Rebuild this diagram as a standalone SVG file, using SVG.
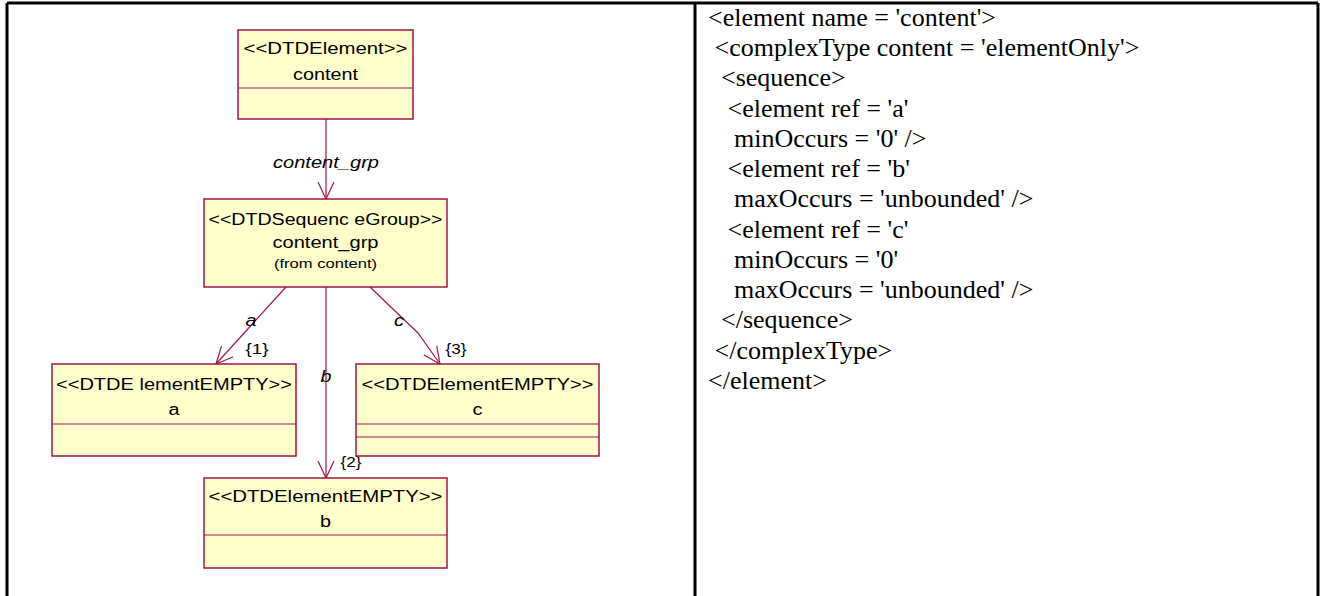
<svg xmlns="http://www.w3.org/2000/svg" width="1321" height="596" viewBox="0 0 1321 596">
  <style>
    .box { fill: #ffffcc; stroke: #a0164a; stroke-width: 1.5; }
    .sep { stroke: #a0164a; stroke-width: 1.2; fill: none; }
    .edge { stroke: #a0164a; stroke-width: 1.2; fill: none; }
    .t { font-family: "Liberation Sans", Arial, sans-serif; font-size: 16px; fill: #000; text-anchor: middle; }
    .small { font-size: 12.5px; }
    .lbl { font-family: "Liberation Sans", Arial, sans-serif; font-size: 16px; font-style: italic; fill: #000; text-anchor: middle; }
    .mult { font-family: "Liberation Sans", Arial, sans-serif; font-size: 15px; fill: #000; text-anchor: middle; }
    .code { font-family: "Liberation Serif", "Times New Roman", serif; font-size: 26px; fill: #000; }
    .frame { stroke: #000; stroke-width: 3; fill: none; }
  </style>
  <defs>
    <marker id="open" viewBox="0 0 18 18" refX="17" refY="9" markerWidth="18" markerHeight="18" markerUnits="userSpaceOnUse" orient="auto">
      <path d="M0,1 L17,9 L0,17" fill="none" stroke="#a0164a" stroke-width="1.2"/>
    </marker>
  </defs>

  <rect width="1321" height="596" fill="#fff"/>

  <!-- table frame -->
  <g id="frame" class="frame">
    <line x1="7" y1="3" x2="1318" y2="3"/>
    <line x1="7" y1="3" x2="7" y2="596"/>
    <line x1="695" y1="3" x2="695" y2="596"/>
    <line x1="1318" y1="3" x2="1318" y2="596"/>
  </g>

  <!-- connectors -->
  <g id="connectors">
    <line class="edge" x1="326" y1="119" x2="326" y2="199" marker-end="url(#open)"/>
    <text class="lbl" x="326" y="168" textLength="106" lengthAdjust="spacingAndGlyphs">content_grp</text>
    <line class="edge" x1="286" y1="287" x2="216" y2="364" marker-end="url(#open)"/>
    <text class="lbl" x="251" y="326" textLength="11" lengthAdjust="spacingAndGlyphs">a</text>
    <text class="mult" x="257" y="354" textLength="23" lengthAdjust="spacingAndGlyphs">{1}</text>
    <line class="edge" x1="326" y1="287" x2="326" y2="478" marker-end="url(#open)"/>
    <text class="lbl" x="326" y="382" textLength="11" lengthAdjust="spacingAndGlyphs">b</text>
    <text class="mult" x="351" y="467" textLength="21" lengthAdjust="spacingAndGlyphs">{2}</text>
    <polyline class="edge" points="370,287 418,333 440,364" marker-end="url(#open)"/>
    <text class="lbl" x="399" y="326" textLength="10" lengthAdjust="spacingAndGlyphs">c</text>
    <text class="mult" x="456" y="354" textLength="21" lengthAdjust="spacingAndGlyphs">{3}</text>
  </g>

  <!-- nodes -->
  <g id="node-content">
    <rect class="box" x="238" y="30" width="175" height="89"/>
    <line class="sep" x1="238" y1="88" x2="413" y2="88"/>
    <text class="t" x="325.5" y="54" textLength="164" lengthAdjust="spacingAndGlyphs">&lt;&lt;DTDElement&gt;&gt;</text>
    <text class="t" x="325.5" y="80" textLength="65" lengthAdjust="spacingAndGlyphs">content</text>
  </g>

  <g id="node-content_grp">
    <rect class="box" x="204" y="199" width="243" height="88"/>
    <text class="t" x="325.5" y="225" textLength="234" lengthAdjust="spacingAndGlyphs">&lt;&lt;DTDSequenc eGroup&gt;&gt;</text>
    <text class="t" x="325.5" y="248" textLength="106" lengthAdjust="spacingAndGlyphs">content_grp</text>
    <text class="t small" x="325.5" y="268" textLength="103" lengthAdjust="spacingAndGlyphs">(from content)</text>
  </g>

  <g id="node-a">
    <rect class="box" x="52" y="364" width="244" height="92"/>
    <line class="sep" x1="52" y1="424" x2="296" y2="424"/>
    <text class="t" x="174" y="390" textLength="236" lengthAdjust="spacingAndGlyphs">&lt;&lt;DTDE lementEMPTY&gt;&gt;</text>
    <text class="t" x="174" y="415" textLength="11" lengthAdjust="spacingAndGlyphs">a</text>
  </g>

  <g id="node-c">
    <rect class="box" x="356" y="364" width="243" height="92"/>
    <line class="sep" x1="356" y1="424" x2="599" y2="424"/>
    <line class="sep" x1="356" y1="437" x2="599" y2="437"/>
    <text class="t" x="477.5" y="390" textLength="232" lengthAdjust="spacingAndGlyphs">&lt;&lt;DTDElementEMPTY&gt;&gt;</text>
    <text class="t" x="477.5" y="415" textLength="10" lengthAdjust="spacingAndGlyphs">c</text>
  </g>

  <g id="node-b">
    <rect class="box" x="204" y="478" width="243" height="90"/>
    <line class="sep" x1="204" y1="535" x2="447" y2="535"/>
    <text class="t" x="325.5" y="502" textLength="234" lengthAdjust="spacingAndGlyphs">&lt;&lt;DTDElementEMPTY&gt;&gt;</text>
    <text class="t" x="325.5" y="527" textLength="11" lengthAdjust="spacingAndGlyphs">b</text>
  </g>

  <!-- XML schema listing -->
  <g id="schema-text" class="code">
    <text x="708" y="26">&lt;element name = 'content'&gt;</text>
    <text x="714.5" y="56">&lt;complexType content = 'elementOnly'&gt;</text>
    <text x="721" y="86">&lt;sequence&gt;</text>
    <text x="727.5" y="117">&lt;element ref = 'a'</text>
    <text x="734" y="147">minOccurs = '0' /&gt;</text>
    <text x="727.5" y="177">&lt;element ref = 'b'</text>
    <text x="734" y="207">maxOccurs = 'unbounded' /&gt;</text>
    <text x="727.5" y="238">&lt;element ref = 'c'</text>
    <text x="734" y="268">minOccurs = '0'</text>
    <text x="734" y="298">maxOccurs = 'unbounded' /&gt;</text>
    <text x="721" y="328">&lt;/sequence&gt;</text>
    <text x="714.5" y="359">&lt;/complexType&gt;</text>
    <text x="708" y="389">&lt;/element&gt;</text>
  </g>
</svg>
